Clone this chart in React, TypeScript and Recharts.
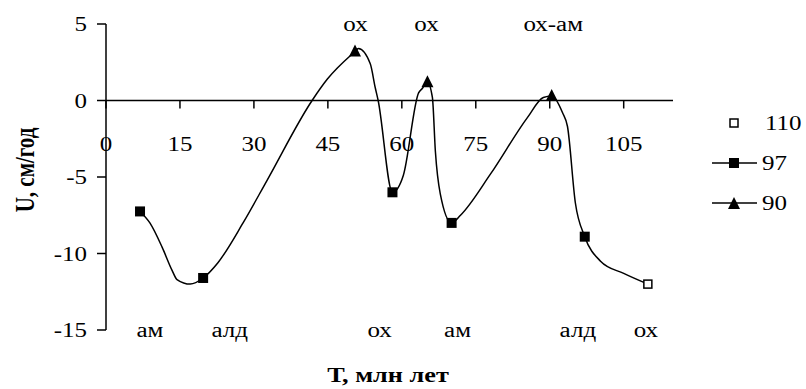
import { ComposedChart, Line, Scatter, XAxis, YAxis, ReferenceLine, Legend } from 'recharts';

// smoothed curve (T, U)
const curveT = [6.9, 8.9, 11.4, 13.4, 14.4, 17.1, 19.7, 22.7, 27.8, 32.7, 41.8, 44.9, 50.5, 51.2, 53.6, 54.6, 55.2, 58.1, 60.3, 63.4, 64.2, 65.2, 66.2, 66.8, 67.8, 70.1, 71.9, 78.0, 85.5, 88.7, 90.4, 92.6, 93.6, 95.2, 97.1, 100.3, 105.0, 109.9];
const curveU = [-7.25, -8.0, -9.6, -11.1, -11.7, -12.0, -11.6, -10.6, -8.0, -5.2, 0, 1.4, 3.2, 3.4, 2.4, 0.85, 0, -6.0, -4.9, 0.5, 0.8, 1.2, 0.2, -3.3, -6.1, -8.0, -7.5, -4.8, -1.1, 0.2, 0.3, -0.8, -1.7, -6.7, -8.9, -10.5, -11.3, -12.0];

// markers
const s110T = [109.9];
const s110U = [-12.0];
const s97T = [6.9, 19.7, 58.1, 70.1, 97.1];
const s97U = [-7.25, -11.6, -6.0, -8.0, -8.9];
const s90T = [50.5, 65.2, 90.4];
const s90U = [3.2, 1.2, 0.3];

// stage labels
const topT = [50.6, 65, 90.7];
const topLabels = ['ох', 'ох', 'ох-ам'];
const bottomT = [8.9, 25.1, 55.5, 71.3, 95.7, 109.5];
const bottomLabels = ['ам', 'алд', 'ох', 'ам', 'алд', 'ох'];

const legendOrder = ['110', '97', '90'];
const xTicks = [0, 15, 30, 45, 60, 75, 90, 105];
const yTicks = [-15, -10, -5, 0, 5];
const Y_MIN = -15;
const Y_MAX = 5;

const W = 806;
const H = 389;
const TOP = 24;
const X_AXIS_H = 59;
const PLOT_H = H - TOP - X_AXIS_H;
const ZERO_Y = TOP + (PLOT_H * Y_MAX) / (Y_MAX - Y_MIN);

const FONT = '"Liberation Serif", "Times New Roman", serif';
const STRETCH = 1.25;

const zip = (xs: number[], ys: number[]) => xs.map((x, i) => ({ x, y: ys[i] }));
const curve = zip(curveT, curveU);
const data110 = zip(s110T, s110U);
const data97 = zip(s97T, s97U);
const data90 = zip(s90T, s90U);
const topData = topT.map((x, i) => ({ x, y: Y_MAX, label: topLabels[i] }));
const bottomData = bottomT.map((x, i) => ({ x, y: Y_MIN, label: bottomLabels[i] }));

function SText({ x, y, anchor = 'middle', size = 20, bold = false, rotate = false, children }: any) {
  const tr = rotate
    ? `translate(${x},${y}) rotate(-90) scale(1,${STRETCH})`
    : `translate(${x},${y}) scale(${STRETCH},1)`;
  return (
    <text transform={tr} textAnchor={anchor} fontFamily={FONT} fontSize={size} fontWeight={bold ? 'bold' : 'normal'} fill="#000">
      {children}
    </text>
  );
}

const FilledSquare = ({ cx, cy }: any) => <rect x={cx - 5} y={cy - 5} width={10} height={10} fill="#000" />;
const OpenSquare = ({ cx, cy }: any) => (
  <rect x={cx - 4} y={cy - 4} width={8} height={8} fill="#fff" stroke="#000" strokeWidth={1.5} />
);
const Triangle = ({ cx, cy }: any) => (
  <polygon points={`${cx},${cy - 7} ${cx - 6},${cy + 5} ${cx + 6},${cy + 5}`} fill="#000" />
);
const StageLabel = ({ cx, cy, payload }: any) => (
  <SText x={cx} y={cy + 7}>{payload.label}</SText>
);

const XTick = ({ x, payload }: any) => (
  <g>
    <line x1={x} x2={x} y1={ZERO_Y} y2={ZERO_Y + 8} stroke="#000" strokeWidth={1.5} />
    <SText x={x} y={ZERO_Y + 50}>{payload.value}</SText>
  </g>
);

const YTick = ({ x, y, payload }: any) => (
  <SText x={x} y={y + 7} anchor="end">{payload.value}</SText>
);

const legendIcon = (name: string) => {
  if (name === '110') return <OpenSquare cx={22} cy={10} />;
  const mark = name === '97' ? <FilledSquare cx={22} cy={10} /> : <Triangle cx={22} cy={11} />;
  return (
    <g>
      <line x1={0} x2={45} y1={10} y2={10} stroke="#000" strokeWidth={1.5} />
      {mark}
    </g>
  );
};

function LegendBox({ payload }: any) {
  const names = (payload || []).map((p: any) => String(p.value));
  const items = legendOrder.filter((n) => names.includes(n));
  return (
    <svg width={106} height={120}>
      {items.map((name, i) => (
        <g key={name} transform={`translate(12,${i * 40})`}>
          {legendIcon(name)}
          <SText x={name === '110' ? 53 : 50} y={17} anchor="start">{name}</SText>
        </g>
      ))}
    </svg>
  );
}

export default function App() {
  return (
    <div style={{ position: 'absolute', left: 0, top: 0, width: W, height: H, background: '#fff' }}>
      <ComposedChart width={W} height={H} margin={{ top: TOP, right: 133, bottom: 0, left: 0 }}>
        <XAxis
          dataKey="x"
          type="number"
          domain={[0, 115]}
          ticks={xTicks}
          height={X_AXIS_H}
          axisLine={false}
          tickLine={false}
          tick={<XTick />}
          interval={0}
        />
        <YAxis
          type="number"
          domain={[Y_MIN, Y_MAX]}
          ticks={yTicks}
          width={106}
          tickSize={9}
          tickMargin={10}
          axisLine={{ stroke: '#000', strokeWidth: 1.5 }}
          tickLine={{ stroke: '#000', strokeWidth: 1.5 }}
          tick={<YTick />}
          interval={0}
        />
        <ReferenceLine y={0} stroke="#000" strokeWidth={1.5} />
        <Line
          data={curve}
          dataKey="y"
          type="monotone"
          stroke="#000"
          strokeWidth={1.5}
          dot={false}
          activeDot={false}
          legendType="none"
          isAnimationActive={false}
        />
        <Scatter name="110" data={data110} dataKey="y" shape={<OpenSquare />} isAnimationActive={false} />
        <Scatter name="97" data={data97} dataKey="y" shape={<FilledSquare />} isAnimationActive={false} />
        <Scatter name="90" data={data90} dataKey="y" shape={<Triangle />} isAnimationActive={false} />
        <Scatter data={topData} dataKey="y" shape={<StageLabel />} legendType="none" isAnimationActive={false} />
        <Scatter data={bottomData} dataKey="y" shape={<StageLabel />} legendType="none" isAnimationActive={false} />
        <Legend
          layout="vertical"
          align="center"
          verticalAlign="middle"
          content={<LegendBox />}
          wrapperStyle={{ left: 700, top: 113, width: 106, height: 120 }}
        />
        <g>
          <SText x={34} y={170} bold rotate size={21}>U, см/год</SText>
          <SText x={388} y={382} bold size={21}>Т, млн лет</SText>
        </g>
      </ComposedChart>
    </div>
  );
}
